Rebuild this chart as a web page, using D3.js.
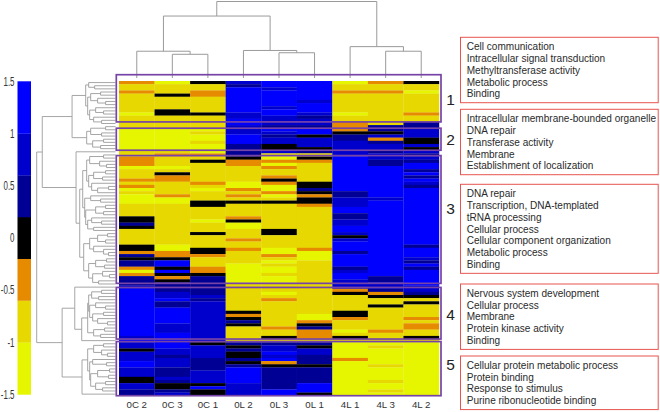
<!DOCTYPE html>
<html><head><meta charset="utf-8">
<script src="https://cdnjs.cloudflare.com/ajax/libs/d3/7.8.5/d3.min.js"></script>
<style>html,body{margin:0;padding:0;background:#fff}svg{display:block}</style>
</head><body><svg id="c" width="660" height="412"></svg>
<script>
// value levels
const B=1.25,M=0.8,N=0.4,K=0,O=-0.4,D=-0.8,Y=-1.25;
const colNames=["0C 2","0C 3","0C 1","0L 2","0L 3","0L 1","4L 1","4L 3","4L 2"];
// each column: runs of [end row (exclusive), value]
const c0C2=[[1,O],[3,D],[4,O],[10,D],[11,Y],[15,D],[22,Y],[24,D],[27,O],[28,Y],[31,D],[32,O],[33,D],[34,O],[35,Y],[36,D],[39,Y],[43,D],[45,K],[46,N],[47,K],[52,D],[54,K],[55,O],[56,N],[57,K],[59,N],[60,O],[61,Y],[62,O],[65,N],[66,M],[81,B],[82,M],[83,B],[85,M],[86,K],[89,M],[91,B],[94,M],[96,K],[98,M],[100,N]];
const c0C3=[[1,Y],[4,D],[5,K],[9,D],[11,K],[15,D],[22,Y],[23,D],[24,O],[27,D],[28,Y],[29,D],[30,K],[32,O],[36,D],[37,O],[39,Y],[52,D],[54,Y],[56,O],[57,K],[59,B],[60,K],[61,B],[62,K],[63,O],[64,K],[67,N],[69,M],[70,B],[72,N],[77,B],[80,M],[85,B],[87,M],[88,N],[91,M],[94,N],[95,M],[96,N],[98,K],[99,N],[100,M]];
const c0C1=[[1,K],[3,D],[5,O],[10,D],[11,K],[15,D],[16,Y],[17,D],[19,Y],[20,D],[23,Y],[24,O],[25,D],[26,K],[32,D],[33,O],[34,D],[35,Y],[38,D],[40,K],[44,D],[45,Y],[48,D],[49,K],[53,D],[55,K],[56,O],[59,D],[61,O],[62,K],[68,N],[69,M],[70,N],[83,M],[84,K],[88,M],[92,N],[96,M],[97,K],[98,B],[100,K]];
const c0L2=[[1,M],[2,N],[10,B],[12,M],[14,B],[17,M],[20,B],[24,N],[25,K],[27,O],[32,D],[34,Y],[35,O],[36,D],[37,O],[38,D],[39,K],[43,D],[44,O],[45,K],[47,Y],[50,D],[51,O],[53,D],[54,O],[58,D],[64,Y],[73,D],[74,K],[75,O],[76,K],[77,N],[78,K],[83,D],[84,N],[85,K],[86,N],[88,K],[89,N],[90,K],[91,N],[96,B],[100,M]];
const c0L3=[[2,B],[3,M],[8,B],[9,M],[11,B],[14,M],[15,N],[16,B],[17,M],[18,N],[20,M],[22,K],[23,M],[24,D],[25,Y],[26,O],[27,Y],[28,O],[30,D],[31,O],[32,K],[33,O],[35,Y],[36,O],[37,Y],[38,D],[39,K],[47,D],[49,K],[53,D],[55,Y],[56,O],[57,D],[58,Y],[59,D],[61,Y],[62,D],[64,Y],[67,D],[68,Y],[69,D],[70,O],[78,D],[79,O],[81,D],[82,K],[83,D],[84,N],[86,M],[87,B],[88,M],[89,B],[90,O],[91,K],[98,N],[100,B]];
const c0L1=[[6,B],[7,M],[10,B],[11,M],[12,N],[14,M],[15,N],[17,B],[18,K],[21,M],[22,K],[23,N],[24,D],[25,K],[26,O],[32,D],[34,K],[35,N],[36,K],[37,O],[39,K],[40,O],[53,D],[54,O],[57,Y],[74,D],[76,Y],[77,O],[78,K],[79,N],[82,O],[83,D],[84,N],[85,K],[87,M],[90,N],[91,K],[96,N],[99,B],[100,K]];
const c4L1=[[1,Y],[3,D],[4,O],[10,D],[11,Y],[13,D],[16,O],[17,K],[19,N],[24,M],[35,B],[37,N],[40,M],[42,B],[44,N],[46,M],[48,B],[49,M],[50,K],[51,M],[54,B],[55,N],[59,B],[60,N],[61,M],[63,B],[66,M],[67,O],[68,K],[73,D],[75,K],[76,O],[79,D],[80,Y],[81,D],[82,K],[83,D],[88,Y],[89,O],[100,Y]];
const c4L3=[[1,O],[3,D],[4,O],[14,D],[16,N],[17,K],[18,M],[19,O],[20,N],[22,M],[23,N],[25,M],[27,N],[37,B],[38,M],[62,B],[64,N],[66,M],[67,N],[68,O],[69,K],[71,D],[72,K],[79,D],[80,O],[83,D],[84,Y],[85,D],[90,Y],[91,D],[95,Y],[96,D],[98,Y],[99,D],[100,Y]];
const c4L2=[[1,K],[3,D],[4,Y],[10,D],[11,O],[13,D],[15,N],[18,M],[20,K],[21,M],[22,K],[23,M],[24,N],[25,M],[26,N],[28,B],[29,N],[30,B],[31,N],[32,B],[33,M],[34,N],[52,B],[53,N],[56,B],[57,M],[58,N],[59,B],[60,N],[65,B],[67,M],[68,N],[69,K],[70,D],[71,K],[75,D],[76,O],[77,D],[79,O],[81,D],[82,K],[83,D],[100,Y]];
const colRuns=[c0C2,c0C3,c0C1,c0L2,c0L3,c0L1,c4L1,c4L3,c4L2];
const ROWS=100;

// colour bar
const barTicks=[1.5,1,0.5,0,-0.5,-1,-1.5];
const thresholds=[-1,-0.6,-0.2,0.2,0.6,1];
const palette=["#e6f500","#e6d800","#e68a00","#000000","#000094","#0000cc","#0000ff"];

// dendrograms: node=[merge distance,childA,childB], 0 = leaf
const colTree=[1,[0.81,[0.35,0,[0.31,0,0]],[0.36,0,[0.33,0,0]]],[0.41,0,[0.35,0,0]]];
const treeC1=[30,[27,0,[21,0,0]],[28,[25,[15,0,0],[18,0,[10,0,0]]],[26,[20,0,[12,0,0]],[22,0,[14,0,0]]]]];
const treeC2=[29,[25,[10,0,0],[14,0,0]],[23,[12,0,0],[15,0,0]]];
const treeA1=[29,[26,[12,0,0],[16,0,[9,0,0]]],[27,[22,[10,0,0],[13,0,0]],[24,0,[18,[7,0,0],0]]]];
const treeA2=[31,[25,0,[15,0,0]],[30,[20,[10,0,0],[12,0,0]],[28,[24,0,[14,0,0]],[22,0,0]]]];
const treeB1=[26,[18,[8,0,0],[10,0,0]],[22,0,[12,0,[7,0,0]]]];
const treeB2=[27,[20,[9,0,0],[11,0,0]],[23,[13,0,[6,0,0]],[17,0,0]]];
const treeC3=[39.7,0,[36,[33,treeA1,treeA2],[32,treeB1,treeB2]]];
const treeC4=[41,0,[34,[28,[27,[24,[14,0,0],[17,0,0]],[26,[20,0,[10,0,0]],[23,[12,0,0],[18,0,[8,0,0]]]]],[22,[11,0,0],[15,0,0]]],0]];
const treeC5=[33.7,[28,[22,[12,0,0],[14,0,[8,0,0]]],[26,[23,0,[9,0,0]],[25,[18,[6,0,0],[7,0,0]],[20,[10,0,0],[13,0,0]]]]],0];
const rowTree=[79.3,[73.7,[43.7,treeC1,treeC2],treeC3],[53.7,treeC4,treeC5]];

// clusters: [first row edge, last row edge]
const clusterNames=["1","2","3","4","5"];
const clusterSpans=[[-2,13],[15,22],[23.7,64.3],[65.6,82],[82.8,100]];
const clusterLabelRows=[6,18.5,40.5,74.3,90];

const termLists=[
 ["Cell communication","Intracellular signal transduction","Methyltransferase activity","Metabolic process","Binding"],
 ["Intracellular membrane-bounded organelle","DNA repair","Transferase activity","Membrane","Establishment of localization"],
 ["DNA repair","Transcription, DNA-templated","tRNA processing","Cellular process","Cellular component organization","Metabolic process","Binding"],
 ["Nervous system development","Cellular process","Membrane","Protein kinase activity","Binding"],
 ["Cellular protein metabolic process","Protein binding","Response to stimulus","Purine ribonucleotide binding"]
];

// ---------- layout ----------
const heat={x0:119,x1:439,y0:81,y1:395.7};
const svg=d3.select("#c");
const font="'Liberation Sans',Arial,sans-serif";
const x=d3.scaleBand().domain(colNames).range([heat.x0,heat.x1]);
const rowPos=d3.scaleLinear().domain([0,ROWS]).range([heat.y0,heat.y1]);
const color=d3.scaleThreshold().domain(thresholds).range(palette);

// heat map
const cells=[];
colRuns.forEach((runs,i)=>{let s=0;runs.forEach(([e,v])=>{cells.push({col:colNames[i],s,e,v});s=e;});});
svg.append("g").selectAll("rect").data(cells).join("rect")
 .attr("x",d=>x(d.col)).attr("width",x.bandwidth()+0.2)
 .attr("y",d=>rowPos(d.s)).attr("height",d=>rowPos(d.e)-rowPos(d.s)+0.2)
 .attr("fill",d=>color(d.v));

// dendrograms
function build(node,leaf){
 if(node===0){return {pos:leaf(),h:0,leaf:true};}
 const a=build(node[1],leaf),b=build(node[2],leaf);
 return {pos:(a.pos+b.pos)/2,h:node[0],a,b};
}
function walk(n,fn){if(n.leaf)return;fn(n);walk(n.a,fn);walk(n.b,fn);}

let ci=0;
const colRoot=build(colTree,()=>x(colNames[ci++])+x.bandwidth()/2);
const colH=d3.scaleLinear().domain([0,1]).range([78,1.5]);
const colSegs=[];walk(colRoot,n=>colSegs.push(n));
svg.append("g").attr("fill","none").selectAll("path").data(colSegs).join("path")
 .attr("stroke-width",1).attr("stroke","#9a9a9a")
 .attr("d",n=>`M${n.a.pos},${colH(n.a.h)}V${colH(n.h)}H${n.b.pos}V${colH(n.b.h)}`);

let ri=0;
const rowRoot=build(rowTree,()=>rowPos(ri++ +0.5));
const rowH=d3.scaleLinear().domain([0,79.3]).range([115.5,36.7]);
const rowSegs=[];walk(rowRoot,n=>rowSegs.push(n));
svg.append("g").attr("fill","none").selectAll("path").data(rowSegs).join("path")
 .attr("stroke-width",0.9).attr("stroke","#9c9c9c")
 .attr("d",n=>`M${rowH(n.a.h)},${n.a.pos}H${rowH(n.h)}V${n.b.pos}H${rowH(n.b.h)}`);

// colour bar
const barY=d3.scaleLinear().domain([-1.5,1.5]).range([394.5,81.3]);
const edges=[-1.5,...thresholds,1.5];
svg.append("g").selectAll("rect").data(palette).join("rect")
 .attr("x",17.5).attr("width",13.5)
 .attr("y",(d,i)=>barY(edges[i+1])).attr("height",(d,i)=>barY(edges[i])-barY(edges[i+1])+0.2)
 .attr("fill",d=>d);
const barAxis=svg.append("g").attr("transform","translate(14.5,0)")
 .call(d3.axisLeft(barY).tickValues(barTicks).tickFormat(String).tickSize(0).tickPadding(0));
barAxis.select(".domain").remove();
barAxis.selectAll("text").attr("font-family",font).attr("font-size",12).attr("fill","#333")
 .attr("transform","scale(0.66,1)");

// column labels
const colAxis=svg.append("g").attr("transform","translate(0,401.5)")
 .call(d3.axisBottom(x).tickSize(0).tickPadding(0));
colAxis.select(".domain").remove();
colAxis.selectAll("text").attr("font-family",font).attr("font-size",9.7).attr("fill","#333");

// purple cluster boxes
svg.append("g").selectAll("rect").data(clusterSpans).join("rect")
 .attr("x",116.3).attr("width",324.7)
 .attr("y",d=>rowPos(d[0])).attr("height",d=>rowPos(d[1])-rowPos(d[0]))
 .attr("fill","none").attr("stroke","#7644a6").attr("stroke-width",1.7);

// cluster numbers
svg.append("g").selectAll("text").data(clusterNames).join("text")
 .attr("x",450.5).attr("text-anchor","middle")
 .attr("y",(d,i)=>rowPos(clusterLabelRows[i])).attr("dy","0.36em")
 .attr("font-family",font).attr("font-size",15.5).attr("fill","#222").text(d=>d);

// red term boxes
const boxTop=[37.3,109.3,184.3,284,356];
const lineH=11.82;
const g=svg.append("g").selectAll("g").data(termLists).join("g")
 .attr("transform",(d,i)=>`translate(460.5,${boxTop[i]})`);
g.append("rect").attr("width",197.7).attr("height",d=>d.length*lineH+6.3)
 .attr("fill","#fff").attr("stroke","#e8554f").attr("stroke-width",1);
g.selectAll("text").data(d=>d).join("text")
 .attr("x",6.2).attr("y",(d,i)=>9.3+i*lineH).attr("dy","0.35em")
 .attr("font-family",font).attr("font-size",10.05).attr("fill","#2a2a2a").text(d=>d);
</script></body></html>
